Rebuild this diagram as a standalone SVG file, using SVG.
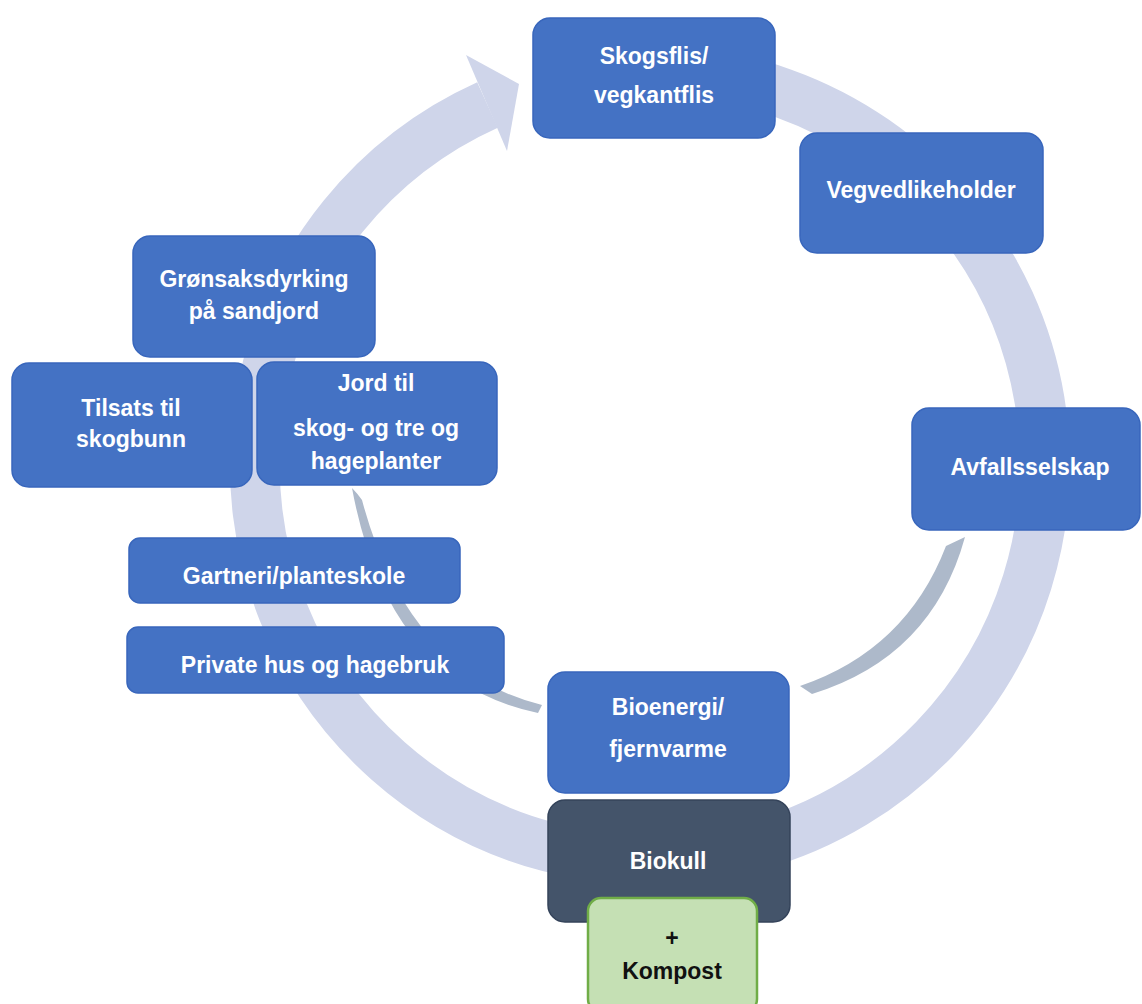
<svg xmlns="http://www.w3.org/2000/svg" width="1142" height="1004" viewBox="0 0 1142 1004">
  <style>
    .ring { fill: none; stroke: #CFD5EA; stroke-width: 50; }
    .ringhead { fill: #CFD5EA; }
    .inner { fill: #ADB9CA; }
    .box { fill: #4472C4; stroke: #3866BC; stroke-width: 1.5; }
    .dark { fill: #44546A; stroke: #34435A; stroke-width: 1.5; }
    .green { fill: #C5E0B4; stroke: #70AD47; stroke-width: 2.5; }
    text { font-family: "Liberation Sans", Arial, sans-serif; font-weight: bold; font-size: 23px; text-anchor: middle; }
    .w { fill: #FFFFFF; }
    .k { fill: #111111; }
  </style>

  <!-- cycle ring with its arrowhead, and the two inner flow arcs -->
  <g id="connectors">
    <path class="ring" d="M 601.9 73 A 395 395 0 1 1 487.5 105"/>
    <polygon class="ringhead" points="466,55 519,84 507,151"/>
    <path class="inner" d="M 946 546 L 965 537 Q 932 657 812 694 L 800 686 Q 906 650 946 546 Z"/>
    <path class="inner" d="M 352 488 Q 357 493 362 500 Q 408 672 542 705 L 538 713 Q 388 682 352 488 Z"/>
  </g>

  <g id="skogsflis">
    <rect class="box" x="533" y="18" width="242" height="120" rx="17"/>
    <text class="w" x="654" y="64">Skogsflis/</text>
    <text class="w" x="654" y="103">vegkantflis</text>
  </g>

  <g id="vegvedlikeholder">
    <rect class="box" x="800" y="133" width="243" height="120" rx="17"/>
    <text class="w" x="921" y="198">Vegvedlikeholder</text>
  </g>

  <g id="avfallsselskap">
    <rect class="box" x="912" y="408" width="228" height="122" rx="17"/>
    <text class="w" x="1030" y="475">Avfallsselskap</text>
  </g>

  <g id="gronsaksdyrking">
    <rect class="box" x="133" y="236" width="242" height="121" rx="17"/>
    <text class="w" x="254" y="287">Grønsaksdyrking</text>
    <text class="w" x="254" y="319">på sandjord</text>
  </g>

  <g id="tilsats">
    <rect class="box" x="12" y="363" width="240" height="124" rx="17"/>
    <text class="w" x="131" y="416">Tilsats til</text>
    <text class="w" x="131" y="447">skogbunn</text>
  </g>

  <g id="jord">
    <rect class="box" x="257" y="362" width="240" height="123" rx="17"/>
    <text class="w" x="376" y="391">Jord til</text>
    <text class="w" x="376" y="436">skog- og tre og</text>
    <text class="w" x="376" y="469">hageplanter</text>
  </g>

  <g id="gartneri">
    <rect class="box" x="129" y="538" width="331" height="65" rx="11"/>
    <text class="w" x="294" y="584">Gartneri/planteskole</text>
  </g>

  <g id="private">
    <rect class="box" x="127" y="627" width="377" height="66" rx="11"/>
    <text class="w" x="315" y="673">Private hus og hagebruk</text>
  </g>

  <g id="bioenergi">
    <rect class="box" x="548" y="672" width="241" height="121" rx="17"/>
    <text class="w" x="668" y="715">Bioenergi/</text>
    <text class="w" x="668" y="757">fjernvarme</text>
  </g>

  <g id="biokull">
    <rect class="dark" x="548" y="800" width="242" height="122" rx="17"/>
    <text class="w" x="668" y="869">Biokull</text>
  </g>

  <g id="kompost">
    <rect class="green" x="588" y="898" width="169" height="114" rx="13"/>
    <text class="k" x="672" y="946">+</text>
    <text class="k" x="672" y="979">Kompost</text>
  </g>
</svg>
